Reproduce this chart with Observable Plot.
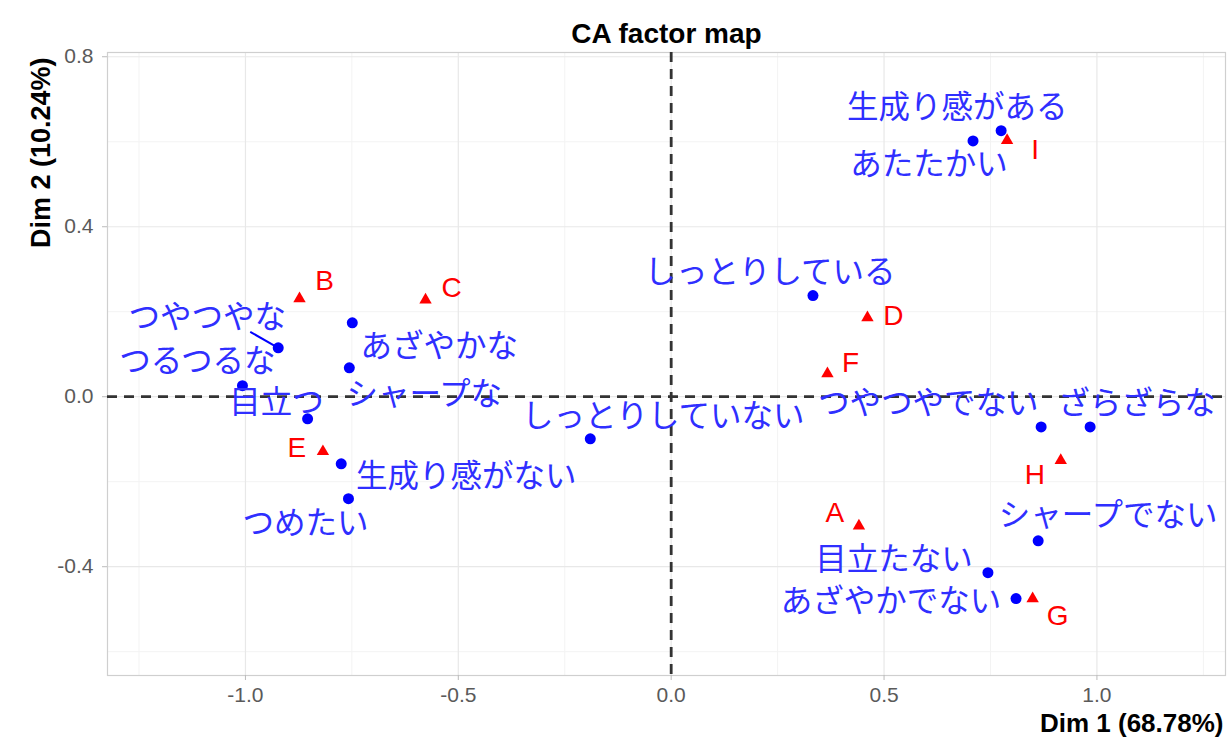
<!DOCTYPE html>
<html><head><meta charset="utf-8">
<script src="https://cdn.jsdelivr.net/npm/d3@7"></script>
<script src="https://cdn.jsdelivr.net/npm/@observablehq/plot@0.6"></script>
<style>body{margin:0;background:#fff}</style>
</head><body><div id="chart"></div>
<script>
// Row points (blue)
const rowNames = ["生成り感がある","あたたかい","しっとりしている","あざやかな","つやつやな","つるつるな","目立つ","シャープな","生成り感がない","つめたい","しっとりしていない","つやつやでない","ざらざらな","シャープでない","目立たない","あざやかでない"];
const rowX = [0.775, 0.709, 0.333, -0.749, -0.923, -1.007, -0.854, -0.756, -0.775, -0.758, -0.190, 0.869, 0.984, 0.862, 0.744, 0.810];
const rowY = [0.626, 0.602, 0.238, 0.174, 0.115, 0.026, -0.052, 0.068, -0.158, -0.240, -0.099, -0.071, -0.071, -0.339, -0.414, -0.475];
// Column points (red)
const colNames = ["A","B","C","D","E","F","G","H","I"];
const colX = [0.441, -0.873, -0.577, 0.461, -0.818, 0.367, 0.849, 0.915, 0.789];
const colY = [-0.304, 0.231, 0.228, 0.186, -0.129, 0.054, -0.475, -0.150, 0.603];
// Axis ticks
const xMajor = [-1, -0.5, 0, 0.5, 1];
const xMinor = [-1.25, -0.75, -0.25, 0.25, 0.75, 1.25];
const yMajor = [-0.4, 0, 0.4, 0.8];
const yMinor = [-0.6, -0.2, 0.2, 0.6];
// Label placement (pixel offsets, like ggrepel)
const rowLabelOffset = [[-44,-23],[-44,24],[-43,-23],[87,24],[-71,-30],[-45,-24],[-31,-16],[75,27],[125,13],[-43,25],[73,-22],[-113,-23],[47,-23],[70,-25],[-94,-13],[-125,3]];
const colLabelOffset = [[-24,-13],[25,-18],[26,-12],[26,-2],[-26,-4],[23,-11],[25,17],[-26,15],[28,10]];

const rows = rowNames.map((n,i)=>({name:n, x:rowX[i], y:rowY[i], dx:rowLabelOffset[i][0], dy:rowLabelOffset[i][1]}));
const cols = colNames.map((n,i)=>({name:n, x:colX[i], y:colY[i], dx:colLabelOffset[i][0], dy:colLabelOffset[i][1]}));

const W = 1227, H = 743;
const mL = 107, mR = 2, mT = 52, mB = 68;
const xDom = [-1.324, 1.302], yDom = [-0.656, 0.81];
const pxX = (W - mL - mR) / (xDom[1] - xDom[0]);
const pxY = (H - mT - mB) / (yDom[1] - yDom[0]);

const jp = "'Noto Sans CJK JP', 'Noto Sans', sans-serif";
const lat = "'Liberation Sans', Arial, sans-serif";
const fmt = d => d.toFixed(1);

const marks = [
  Plot.ruleX(xMinor, {stroke:"#f3f3f3", strokeWidth:1}),
  Plot.ruleY(yMinor, {stroke:"#f3f3f3", strokeWidth:1}),
  Plot.ruleX(xMajor, {stroke:"#e8e8e8", strokeWidth:1.2}),
  Plot.ruleY(yMajor, {stroke:"#e8e8e8", strokeWidth:1.2}),
  Plot.frame({stroke:"#cfcfcf", strokeWidth:1.2}),
  Plot.axisX({ticks:xMajor, tickFormat:fmt, tickSize:5, tickPadding:7, stroke:"#bbbbbb", fill:"#5a5a5a", fontSize:21, label:null}),
  Plot.axisY({ticks:yMajor, tickFormat:fmt, tickSize:5, tickPadding:9, stroke:"#bbbbbb", fill:"#5a5a5a", fontSize:21, label:null}),
  Plot.ruleX([0], {stroke:"#333333", strokeWidth:2.8, strokeDasharray:"10,7"}),
  Plot.ruleY([0], {stroke:"#333333", strokeWidth:2.8, strokeDasharray:"10,7"}),
  Plot.link([rows[4]], {x1:"x", y1:"y", x2:d=>d.x - 28/pxX, y2:d=>d.y + 16/pxY, stroke:"blue", strokeWidth:2}),
  Plot.dot(rows, {x:"x", y:"y", r:5.5, fill:"blue"}),
  Plot.dot(cols, {x:"x", y:"y", r:4.6, fill:"red", symbol:"triangle"}),
  ...rows.map(d => Plot.text([d], {x:"x", y:"y", text:"name", dx:d.dx, dy:d.dy, fill:"#2f2fff", fontSize:31.5, fontFamily:jp})),
  ...cols.map(d => Plot.text([d], {x:"x", y:"y", text:"name", dx:d.dx, dy:d.dy, fill:"red", fontSize:28, fontFamily:lat})),
  Plot.text(["CA factor map"], {frameAnchor:"top", dy:-29, fontSize:28, fontWeight:"bold", fill:"#000", fontFamily:lat, letterSpacing:"0.8px"}),
  Plot.text(["Dim 2 (10.24%)"], {frameAnchor:"top-left", dx:-77, dy:5, rotate:-90, textAnchor:"end", fontSize:27, fontWeight:"bold", fill:"#000", fontFamily:lat}),
  Plot.text(["Dim 1 (68.78%)"], {frameAnchor:"bottom-right", dx:-2, dy:56, textAnchor:"end", fontSize:26, fontWeight:"bold", fill:"#000", fontFamily:lat})
];

const chart = Plot.plot({
  width: W, height: H,
  marginLeft: mL, marginRight: mR, marginTop: mT, marginBottom: mB,
  x: {domain: xDom},
  y: {domain: yDom},
  style: {fontFamily: lat, background: "#fff", overflow: "visible"},
  marks
});
document.getElementById("chart").appendChild(chart);
</script>
</body></html>
